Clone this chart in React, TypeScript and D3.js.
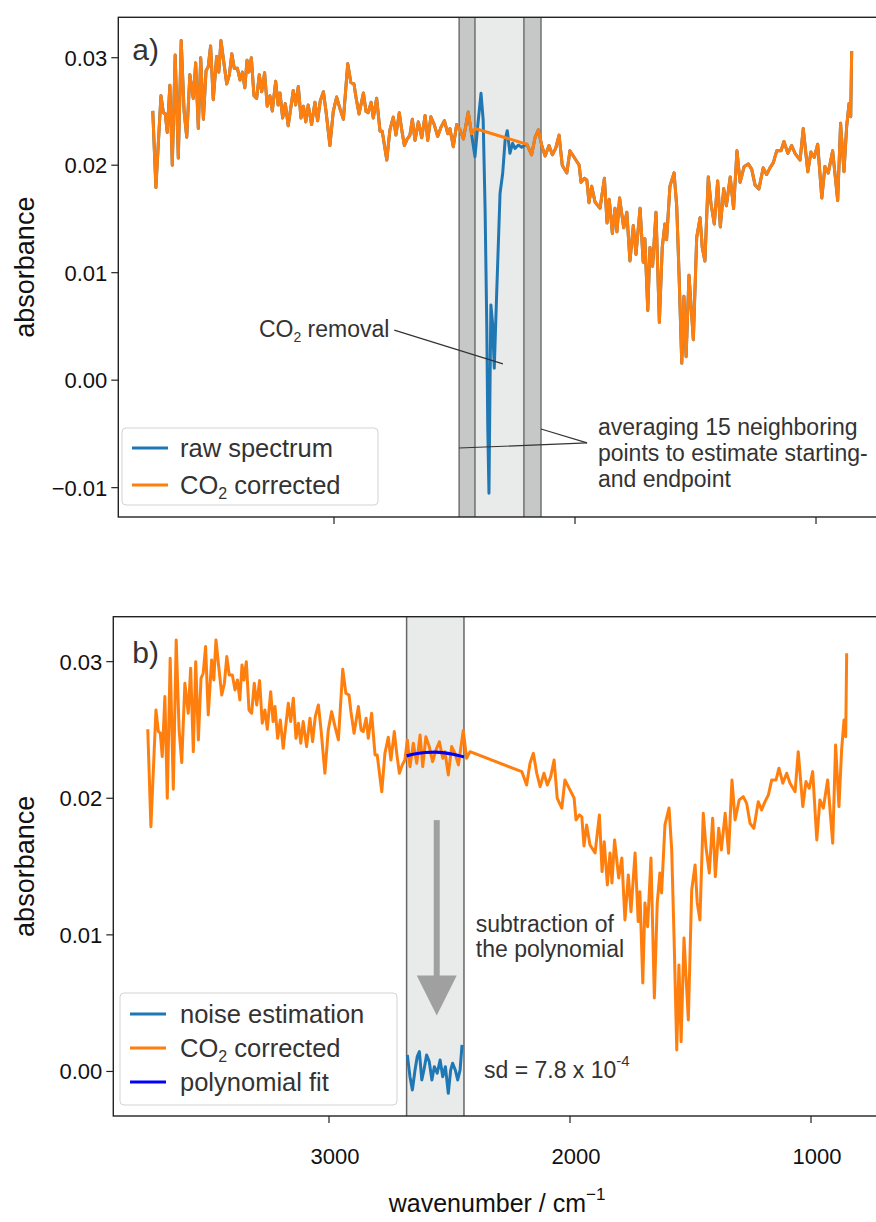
import * as d3 from "d3";

// CO2-corrected spectrum (wavenumber / cm-1, absorbance)
const specWn = [
  3752, 3739, 3718, 3708, 3700, 3692, 3681, 3671, 3659, 3646, 3634, 3622, 3611, 3598, 3584, 3574,
  3563, 3553, 3542, 3531, 3522, 3512, 3501, 3487, 3478, 3469, 3459, 3445, 3434, 3424, 3414, 3401,
  3390, 3380, 3370, 3361, 3353, 3343, 3332, 3321, 3310, 3300, 3288, 3277, 3266, 3256, 3242, 3232,
  3224, 3213, 3202, 3190, 3169, 3159, 3148, 3137, 3127, 3117, 3107, 3093, 3079, 3068, 3057, 3044,
  3033, 3017, 3003, 2989, 2975, 2961, 2943, 2930, 2917, 2909, 2896, 2878, 2867, 2858, 2846, 2837,
  2823, 2809, 2800, 2781, 2768, 2754, 2743, 2729, 2719, 2708, 2696, 2685, 2675, 2664, 2650, 2636,
  2622, 2611, 2598, 2584, 2570, 2556, 2542, 2528, 2519, 2505, 2491, 2477, 2463, 2443, 2429, 2415,
  2200, 2180, 2166, 2152, 2138, 2124, 2108, 2094, 2080, 2066, 2053, 2034, 2021, 2007, 1983, 1975,
  1961, 1951, 1942, 1931, 1917, 1896, 1878, 1867, 1858, 1845, 1834, 1826, 1815, 1798, 1785, 1772,
  1758, 1747, 1730, 1717, 1710, 1698, 1689, 1678, 1664, 1650, 1638, 1627, 1620, 1606, 1589, 1578,
  1568, 1557, 1548, 1539, 1527, 1509, 1495, 1481, 1472, 1461, 1447, 1436, 1422, 1408, 1397, 1383,
  1372, 1356, 1342, 1328, 1315, 1298, 1281, 1267, 1253, 1237, 1219, 1205, 1191, 1177, 1163, 1145,
  1133, 1117, 1101, 1087, 1066, 1053, 1034, 1021, 1007, 993, 976, 963, 949, 931, 910, 898,
  884, 873, 863, 856, 852,
];
const specAbs = [
  0.02505, 0.01792, 0.02646, 0.02488, 0.02478, 0.02305, 0.02744, 0.02, 0.03025, 0.02066, 0.03159, 0.025, 0.02261, 0.02842, 0.02622, 0.02952,
  0.02341, 0.03, 0.02427, 0.02878, 0.02915, 0.0311, 0.0261, 0.03012, 0.02866, 0.03159, 0.02988, 0.02756, 0.02842, 0.03037, 0.02903, 0.02903,
  0.02793, 0.02866, 0.0272, 0.02976, 0.02866, 0.03, 0.02646, 0.02622, 0.02842, 0.02683, 0.02861, 0.02549, 0.02646, 0.02505, 0.0278, 0.02561,
  0.02671, 0.02439, 0.02573, 0.02366, 0.02695, 0.02561, 0.02732, 0.02439, 0.02549, 0.02403, 0.02561, 0.02378, 0.02586, 0.02414, 0.02597, 0.02683,
  0.025, 0.02183, 0.025, 0.02634, 0.02524, 0.02427, 0.02944, 0.02769, 0.02756, 0.02634, 0.02476, 0.02671, 0.025, 0.02488, 0.02586, 0.02439,
  0.02622, 0.02317, 0.02317, 0.02048, 0.02329, 0.02447, 0.0228, 0.02488, 0.02329, 0.02183, 0.02244, 0.0228, 0.02427, 0.02231, 0.02403, 0.02256,
  0.02463, 0.02231, 0.02451, 0.02378, 0.02268, 0.02354, 0.02414, 0.02293, 0.02341, 0.02171, 0.02378, 0.02329, 0.02244, 0.02495, 0.02293, 0.02341,
  0.02195, 0.02097, 0.02256, 0.02329, 0.02183, 0.02085, 0.02183, 0.02097, 0.02158, 0.0228, 0.02, 0.01927, 0.02134, 0.02085, 0.02002, 0.01841,
  0.01878, 0.01863, 0.01651, 0.01805, 0.01658, 0.016, 0.01878, 0.01463, 0.01682, 0.01365, 0.016, 0.0138, 0.01695, 0.01417, 0.01563, 0.01109,
  0.01439, 0.0117, 0.016, 0.01097, 0.01316, 0.00648, 0.01234, 0.0106, 0.01563, 0.00538, 0.01234, 0.01453, 0.01307, 0.01805, 0.01929, 0.01622,
  0.00963, 0.00157, 0.0078, 0.00218, 0.00977, 0.00377, 0.01329, 0.01512, 0.01234, 0.01109, 0.0189, 0.01646, 0.01453, 0.01854, 0.01426, 0.0178,
  0.01622, 0.0189, 0.01597, 0.02134, 0.01841, 0.01988, 0.02012, 0.01963, 0.01817, 0.0178, 0.01975, 0.01914, 0.01975, 0.02024, 0.02134, 0.02134,
  0.0222, 0.0211, 0.02183, 0.0211, 0.02048, 0.02341, 0.01939, 0.02122, 0.02073, 0.02195, 0.01695, 0.01988, 0.01927, 0.02134, 0.01671, 0.0239,
  0.01939, 0.02354, 0.02573, 0.02451, 0.03061,
];

// raw spectrum inside the CO2 band
const co2Wn = [2433, 2415, 2404, 2390, 2381, 2373, 2366, 2362, 2357, 2353, 2349, 2342, 2335, 2325, 2311, 2300, 2290, 2281, 2270, 2259, 2249, 2235, 2221, 2207];
const co2Abs = [0.02343, 0.02079, 0.02358, 0.02669, 0.0242, 0.01583, 0.00498, -0.00433, -0.01052, -0.00122, 0.007, 0.00529, 0.00111, 0.00808, 0.01739, 0.01925, 0.02234, 0.02321, 0.02111, 0.02204, 0.02157, 0.02188, 0.02167, 0.02188];

// noise after polynomial subtraction
const noiseWn = [2675, 2664, 2654, 2643, 2634, 2625, 2615, 2606, 2595, 2584, 2573, 2563, 2551, 2539, 2528, 2517, 2505, 2495, 2487, 2476, 2466, 2456, 2448];
const noiseAbs = [0.00121, -0.00038, -0.00135, 0.00011, 0.00108, 0.00145, -0.00062, 0.00011, 0.00121, 0.00072, -0.00062, 0.00035, -0.00013, 0.00084, -0.00038, 0.00035, -0.0016, 0.00011, 0.0006, 0.00011, -0.00062, 0.00011, 0.00194];

// polynomial fit
const polyWn = [2678, 2640, 2600, 2560, 2520, 2480, 2440];
const polyAbs = [0.0231, 0.02326, 0.02335, 0.02337, 0.02332, 0.0232, 0.02302];

const avgBands = [[2481, 2415], [2212, 2141]];
const co2Band = [2415, 2212];
const noiseBand = [2678, 2440];

const xTicks = [3000, 2000, 1000];
const yTicksA = [-0.01, 0, 0.01, 0.02, 0.03];
const yTicksB = [0, 0.01, 0.02, 0.03];

const ORANGE = "#ff7f0e";
const BLUE = "#1f77b4";
const FONT = "'Liberation Sans', Arial, Helvetica, sans-serif";
const TXT = "#333333";
const LW = 3;
const ANN = 23; // annotation font
const LEG = 25.5; // legend font
const TICK = 22;

const pA = { left: 118.3, right: 885.9, top: 17.3, bottom: 517 };
const pB = { left: 113.3, right: 880.9, top: 616.7, bottom: 1116 };

const fmt = (d: number) => (d < 0 ? "\u2212" + d3.format(".2f")(-d) : d3.format(".2f")(d));

function zip(w: number[], a: number[]) {
  return w.map((v, i) => [v, a[i]] as [number, number]);
}

export default function App() {
  const xA = d3.scaleLinear().domain([3895, 710]).range([pA.left, pA.right]);
  const yA = d3.scaleLinear().domain([-0.01273, 0.03376]).range([pA.bottom, pA.top]);
  const xB = d3.scaleLinear().domain([3895, 710]).range([pB.left, pB.right]);
  const yB = d3.scaleLinear().domain([-0.00326, 0.03329]).range([pB.bottom, pB.top]);

  const spec = zip(specWn, specAbs);
  const raw = [
    ...spec.filter((d) => d[0] > 2440),
    ...zip(co2Wn, co2Abs),
    ...spec.filter((d) => d[0] < 2205),
  ];

  const lineA = d3.line<[number, number]>().x((d) => xA(d[0])).y((d) => yA(d[1]));
  const lineB = d3.line<[number, number]>().x((d) => xB(d[0])).y((d) => yB(d[1]));
  const polyLine = d3.line<[number, number]>().x((d) => xB(d[0])).y((d) => yB(d[1])).curve(d3.curveMonotoneX);

  // arrow in the lower panel
  const ax = xB(2553);
  const ay0 = yB(0.0184);
  const ay1 = yB(0.0041);

  return (
    <svg width={876} height={1222} style={{ position: "absolute", left: 0, top: 0, background: "#fff" }} fontFamily={FONT}>
      <defs>
        <clipPath id="clipA"><rect x={pA.left} y={pA.top} width={pA.right - pA.left} height={pA.bottom - pA.top} /></clipPath>
        <clipPath id="clipB"><rect x={pB.left} y={pB.top} width={pB.right - pB.left} height={pB.bottom - pB.top} /></clipPath>
      </defs>

      {/* ---------- panel a ---------- */}
      <rect x={xA(co2Band[0])} y={pA.top} width={xA(co2Band[1]) - xA(co2Band[0])} height={pA.bottom - pA.top} fill="#e9ebeb" />
      {avgBands.map((b, i) => (
        <rect key={i} x={xA(b[0])} y={pA.top} width={xA(b[1]) - xA(b[0])} height={pA.bottom - pA.top} fill="#c6c8c8" />
      ))}
      {[avgBands[0][0], avgBands[0][1], avgBands[1][0], avgBands[1][1]].map((w, i) => (
        <line key={i} x1={xA(w)} x2={xA(w)} y1={pA.top} y2={pA.bottom} stroke="#555" strokeWidth={1.2} />
      ))}
      <g clipPath="url(#clipA)">
        <path d={lineA(raw) || ""} fill="none" stroke={BLUE} strokeWidth={LW} strokeLinejoin="round" />
        <path d={lineA(spec) || ""} fill="none" stroke={ORANGE} strokeWidth={LW} strokeLinejoin="round" />
      </g>

      {/* annotations a */}
      <line x1={xA(2750)} y1={yA(0.00465)} x2={xA(2299)} y2={yA(0.00151)} stroke="#333" strokeWidth={1.2} />
      <text x={xA(2770)} y={yA(0.0040)} fontSize={ANN} fill={TXT} textAnchor="end">
        CO<tspan fontSize={14} dy={5}>2</tspan><tspan dy={-5}> removal</tspan>
      </text>
      <line x1={xA(1950)} y1={yA(-0.00584)} x2={xA(2481)} y2={yA(-0.00631)} stroke="#333" strokeWidth={1.2} />
      <line x1={xA(1950)} y1={yA(-0.00584)} x2={xA(2141)} y2={yA(-0.00454)} stroke="#333" strokeWidth={1.2} />
      <text x={xA(1905)} fontSize={ANN} fill={TXT}>
        <tspan x={xA(1905)} y={yA(-0.00512)}>averaging 15 neighboring</tspan>
        <tspan x={xA(1905)} y={yA(-0.00754)}>points to estimate starting-</tspan>
        <tspan x={xA(1905)} y={yA(-0.00995)}>and endpoint</tspan>
      </text>

      {/* legend a */}
      <rect x={122} y={428} width={256} height={77} rx={4} fill="#fff" fillOpacity={0.8} stroke="#d3d3d3" />
      <line x1={132} x2={168} y1={448} y2={448} stroke={BLUE} strokeWidth={LW} />
      <text x={180} y={456.5} fontSize={LEG} fill={TXT}>raw spectrum</text>
      <line x1={132} x2={168} y1={485} y2={485} stroke={ORANGE} strokeWidth={LW} />
      <text x={180} y={493.5} fontSize={LEG} fill={TXT}>
        CO<tspan fontSize={16} dy={5}>2</tspan><tspan dy={-5}> corrected</tspan>
      </text>

      <text x={pA.left + 14} y={pA.top + 43} fontSize={30} fill={TXT}>a)</text>

      {/* axes a */}
      <rect x={pA.left} y={pA.top} width={pA.right - pA.left} height={pA.bottom - pA.top} fill="none" stroke="#222" strokeWidth={1.4} />
      {yTicksA.map((t) => (
        <g key={t}>
          <line x1={pA.left - 7} x2={pA.left} y1={yA(t)} y2={yA(t)} stroke="#222" strokeWidth={1.2} />
          <text x={pA.left - 11} y={yA(t) + 8} fontSize={TICK} textAnchor="end" fill="#111">{fmt(t)}</text>
        </g>
      ))}
      {xTicks.map((t) => (
        <line key={t} x1={xA(t)} x2={xA(t)} y1={pA.bottom} y2={pA.bottom + 7} stroke="#222" strokeWidth={1.2} />
      ))}
      <text transform={`translate(34,${(pA.top + pA.bottom) / 2}) rotate(-90)`} fontSize={27} textAnchor="middle" fill="#111">absorbance</text>

      {/* ---------- panel b ---------- */}
      <rect x={xB(noiseBand[0])} y={pB.top} width={xB(noiseBand[1]) - xB(noiseBand[0])} height={pB.bottom - pB.top} fill="#e9ebeb" />
      {noiseBand.map((w, i) => (
        <line key={i} x1={xB(w)} x2={xB(w)} y1={pB.top} y2={pB.bottom} stroke="#666" strokeWidth={1.5} />
      ))}
      <g clipPath="url(#clipB)">
        <path d={lineB(zip(noiseWn, noiseAbs)) || ""} fill="none" stroke={BLUE} strokeWidth={LW} strokeLinejoin="round" />
        <path d={lineB(spec) || ""} fill="none" stroke={ORANGE} strokeWidth={LW} strokeLinejoin="round" />
        <path d={polyLine(zip(polyWn, polyAbs)) || ""} fill="none" stroke="#0000ff" strokeWidth={3.2} />
      </g>

      {/* arrow */}
      <rect x={ax - 3} y={ay0} width={6} height={ay1 - ay0 - 38} fill="#a0a0a0" />
      <polygon points={`${ax - 20},${ay1 - 40} ${ax + 20},${ay1 - 40} ${ax},${ay1}`} fill="#a0a0a0" />

      <text fontSize={ANN} fill={TXT}>
        <tspan x={xB(2391)} y={yB(0.01021)}>subtraction of</tspan>
        <tspan x={xB(2391)} y={yB(0.0084)}>the polynomial</tspan>
      </text>
      <text x={xB(2357)} y={yB(-0.00045)} fontSize={ANN} fill={TXT}>
        sd = 7.8 x 10<tspan fontSize={15} dy={-12}>-4</tspan>
      </text>

      {/* legend b */}
      <rect x={120} y={993} width={277} height={112} rx={4} fill="#fff" fillOpacity={0.8} stroke="#d3d3d3" />
      <line x1={130} x2={166} y1={1014} y2={1014} stroke={BLUE} strokeWidth={LW} />
      <text x={180} y={1022.5} fontSize={LEG} fill={TXT}>noise estimation</text>
      <line x1={130} x2={166} y1={1048} y2={1048} stroke={ORANGE} strokeWidth={LW} />
      <text x={180} y={1056.5} fontSize={LEG} fill={TXT}>
        CO<tspan fontSize={16} dy={5}>2</tspan><tspan dy={-5}> corrected</tspan>
      </text>
      <line x1={130} x2={166} y1={1082} y2={1082} stroke="#0000ff" strokeWidth={3.2} />
      <text x={180} y={1090.5} fontSize={LEG} fill={TXT}>polynomial fit</text>

      <text x={pB.left + 19} y={pB.top + 46} fontSize={30} fill={TXT}>b)</text>

      {/* axes b */}
      <rect x={pB.left} y={pB.top} width={pB.right - pB.left} height={pB.bottom - pB.top} fill="none" stroke="#222" strokeWidth={1.4} />
      {yTicksB.map((t) => (
        <g key={t}>
          <line x1={pB.left - 7} x2={pB.left} y1={yB(t)} y2={yB(t)} stroke="#222" strokeWidth={1.2} />
          <text x={pB.left - 11} y={yB(t) + 8} fontSize={TICK} textAnchor="end" fill="#111">{fmt(t)}</text>
        </g>
      ))}
      {xTicks.map((t) => (
        <g key={t}>
          <line x1={xB(t)} x2={xB(t)} y1={pB.bottom} y2={pB.bottom + 7} stroke="#222" strokeWidth={1.2} />
          <text x={xB(t) + 6} y={pB.bottom + 48} fontSize={TICK} textAnchor="middle" fill="#111">{t}</text>
        </g>
      ))}
      <text transform={`translate(34,${(pB.top + pB.bottom) / 2}) rotate(-90)`} fontSize={27} textAnchor="middle" fill="#111">absorbance</text>

      <text x={(pB.left + pB.right) / 2} y={1212} fontSize={25} textAnchor="middle" fill="#111">
        wavenumber / cm<tspan fontSize={17} dy={-12}>−1</tspan>
      </text>
    </svg>
  );
}
